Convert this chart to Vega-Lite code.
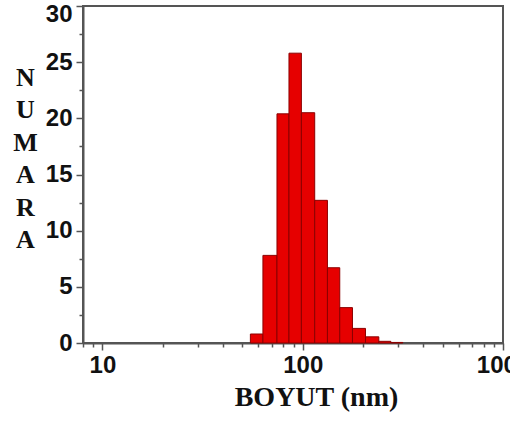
{
  "$schema": "https://vega.github.io/schema/vega-lite/v6.json",
  "width": 420,
  "height": 337,
  "autosize": "none",
  "padding": {"left": 83, "top": 6, "right": 7, "bottom": 78},
  "background": "white",
  "config": {"view": {"stroke": "#555", "strokeWidth": 2}},
  "data": {
    "values": [
      {"lo": 54.8, "hi": 63.3, "count": 0.8},
      {"lo": 63.3, "hi": 74.4, "count": 7.8},
      {"lo": 74.4, "hi": 85.4, "count": 20.4},
      {"lo": 85.4, "hi": 98.5, "count": 25.8},
      {"lo": 98.5, "hi": 114.8, "count": 20.5},
      {"lo": 114.8, "hi": 132.9, "count": 12.7},
      {"lo": 132.9, "hi": 153.1, "count": 6.7},
      {"lo": 153.1, "hi": 177.2, "count": 3.15},
      {"lo": 177.2, "hi": 205.8, "count": 1.3},
      {"lo": 205.8, "hi": 239.9, "count": 0.55},
      {"lo": 239.9, "hi": 275.4, "count": 0.15},
      {"lo": 275.4, "hi": 316, "count": 0.05}
    ]
  },
  "mark": {"type": "bar", "fill": "#e60000", "stroke": "#8b0000", "strokeWidth": 1},
  "encoding": {
    "x": {
      "field": "lo",
      "type": "quantitative",
      "scale": {"type": "log", "domain": [8, 1000], "nice": false},
      "axis": {
        "title": "BOYUT (nm)",
        "titleFont": "Liberation Serif",
        "titleFontSize": 28,
        "titleFontWeight": "bold",
        "titleColor": "#111",
        "titleX": 233,
        "titleY": 62,
        "titleAlign": "center",
        "titleBaseline": "alphabetic",
        "values": [8, 9, 10, 20, 30, 40, 50, 60, 70, 80, 90, 100, 200, 300, 400, 500, 600, 700, 800, 900, 1000],
        "labelExpr": "(datum.value == 10 || datum.value == 100 || datum.value == 1000) ? format(datum.value, 'd') : ''",
        "labelOverlap": false,
        "labelFlush": false,
        "labelBound": false,
        "labelFont": "Liberation Sans",
        "labelFontSize": 24,
        "labelFontWeight": "bold",
        "labelColor": "#111",
        "labelPadding": 3,
        "tickSize": {"condition": {"test": "datum.value == 10 || datum.value == 100 || datum.value == 1000", "value": 7}, "value": 4},
        "tickColor": "#555",
        "tickWidth": 1.5,
        "domainColor": "#555",
        "domainWidth": 2,
        "grid": false
      }
    },
    "x2": {"field": "hi"},
    "y": {
      "field": "count",
      "type": "quantitative",
      "scale": {"domain": [0, 30], "nice": false},
      "axis": {
        "title": ["N", "U", "M", "A", "R", "A"],
        "titleAngle": 0,
        "titleFont": "Liberation Serif",
        "titleFontSize": 26,
        "titleFontWeight": "bold",
        "titleColor": "#111",
        "titleLineHeight": 32.5,
        "titleX": -58,
        "titleY": 58,
        "titleAlign": "center",
        "titleBaseline": "top",
        "values": [0, 2.5, 5, 7.5, 10, 12.5, 15, 17.5, 20, 22.5, 25, 27.5, 30],
        "labelExpr": "datum.value % 5 == 0 ? format(datum.value, 'd') : ''",
        "labelOverlap": false,
        "labelFlush": false,
        "labelBound": false,
        "labelOffset": {"condition": {"test": "datum.value == 30", "value": 8}, "value": 0},
        "labelFont": "Liberation Sans",
        "labelFontSize": 24,
        "labelFontWeight": "bold",
        "labelColor": "#111",
        "labelPadding": 4,
        "tickSize": {"condition": {"test": "datum.value % 5 == 0", "value": 7}, "value": 4},
        "tickColor": "#555",
        "tickWidth": 1.5,
        "domainColor": "#555",
        "domainWidth": 2,
        "grid": false
      }
    },
    "y2": {"datum": 0}
  }
}
